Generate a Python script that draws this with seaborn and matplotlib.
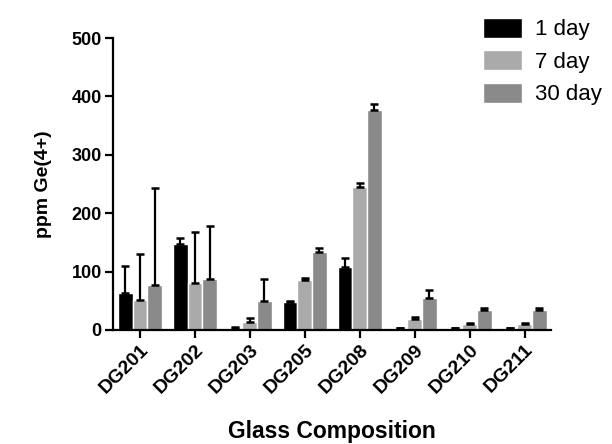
import matplotlib
matplotlib.use("Agg")
import matplotlib.pyplot as plt
import numpy as np
import pandas as pd
import seaborn as sns

# values
glasses = ["DG201", "DG202", "DG203", "DG205", "DG208", "DG209", "DG210", "DG211"]
times = ["1 day", "7 day", "30 day"]

day1 = [64, 148, 4, 48, 107, 3, 3, 3]
day1_err = [46, 10, 1, 2, 17, 1, 1, 1]
day7 = [51, 80, 14, 85, 244, 19, 10, 10]
day7_err = [79, 87, 6, 4, 8, 3, 2, 2]
day30 = [77, 88, 50, 133, 376, 55, 34, 35]
day30_err = [166, 90, 37, 7, 11, 13, 3, 3]

colors = ["#000000", "#aaaaaa", "#8a8a8a"]

sns.set_style("ticks")
plt.rcParams["font.family"] = ["Liberation Sans", "DejaVu Sans"]
plt.rcParams.update({"text.color": "black", "axes.labelcolor": "black",
                     "xtick.color": "black", "ytick.color": "black",
                     "axes.edgecolor": "black"})

df = pd.DataFrame({
    "glass": glasses * 3,
    "time": [times[0]] * 8 + [times[1]] * 8 + [times[2]] * 8,
    "ppm": day1 + day7 + day30,
    "err": day1_err + day7_err + day30_err,
})

fig = plt.figure(figsize=(6.12, 4.44), dpi=100)
ax = fig.add_axes([0.1846, 0.2568, 0.7157, 0.6576])

sns.barplot(data=df, x="glass", y="ppm", hue="time", order=glasses, hue_order=times,
            palette=colors, errorbar=None, width=0.8, saturation=1, ax=ax)

# one-sided error bars on top of each bar
for cont, t in zip(ax.containers, times):
    errs = df[df.time == t].set_index("glass").loc[glasses, "err"].values
    xs = [b.get_x() + b.get_width() / 2 for b in cont]
    hs = [b.get_height() for b in cont]
    ax.errorbar(xs, hs, yerr=[np.zeros(len(errs)), errs], fmt="none",
                ecolor="black", elinewidth=1.6, capsize=2.8, capthick=1.8)

ax.set_ylim(0, 500)
ax.set_xlim(-0.49, 7.48)
ax.set_yticks([0, 100, 200, 300, 400, 500])
sns.despine(ax=ax)
for s in ["left", "bottom"]:
    ax.spines[s].set_linewidth(1.6)
ax.tick_params(axis="both", width=1.6, length=6, pad=2)
plt.setp(ax.get_yticklabels(), fontweight="bold", fontsize=13)
plt.setp(ax.get_xticklabels(), rotation=45, ha="right", rotation_mode="anchor",
         fontweight="bold", fontsize=14)

ax.set_xlabel("Glass Composition", fontsize=16.5, fontweight="bold", labelpad=17)
ax.set_ylabel("ppm Ge(4+)", fontsize=14, fontweight="bold", labelpad=14)

handles, labels = ax.get_legend_handles_labels()
ax.legend(handles, labels, loc="upper left", bbox_to_anchor=(0.756, 1.005),
          bbox_transform=fig.transFigure, frameon=False, fontsize=16,
          handlelength=1.75, handleheight=1.0, labelspacing=0.45, handletextpad=0.6)

fig.savefig("out.png", dpi=100)
